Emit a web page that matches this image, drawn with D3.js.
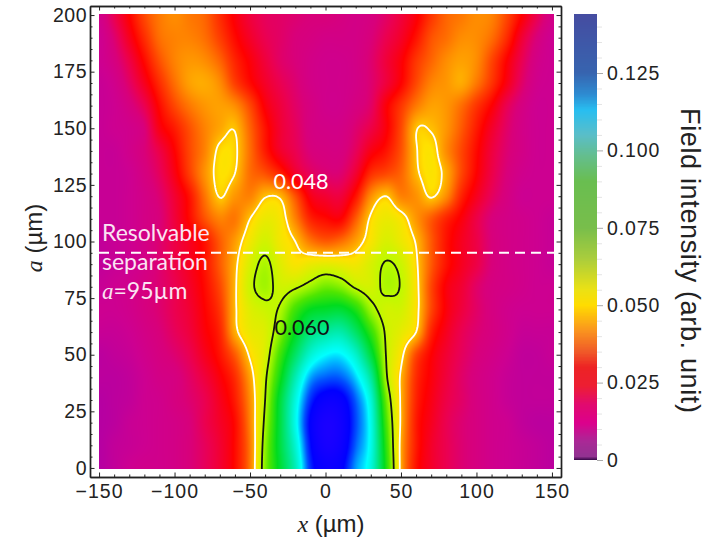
<!DOCTYPE html>
<html>
<head>
<meta charset="utf-8">
<script src="https://cdnjs.cloudflare.com/ajax/libs/d3/7.8.5/d3.min.js"></script>
<style>
  html, body { margin: 0; padding: 0; background: #fff; }
  text { font-family: "Liberation Sans", sans-serif; }
</style>
</head>
<body>
<svg id="chart" width="704" height="541"></svg>
<script>
// grid positions (um)
var xValues = d3.range(-150, 151, 10);
var aValues = d3.range(0, 201, 10);

// field intensity, in units of 0.001, one row per a value, bottom row first
var fieldRows = [
  [8,10,12,13,13,14,16,19,23,29,41,65,83,102,128,136,134,120,108,77,46,30,24,20,17,15,13,12,11,10,9],
  [8,10,11,12,13,14,16,19,23,29,41,64,85,106,131,141,138,124,110,75,46,31,24,20,17,15,13,12,11,10,9],
  [8,9,11,12,13,14,16,20,24,29,42,62,85,110,133,142,139,126,110,72,47,31,25,20,17,15,13,12,10,9,9],
  [8,9,10,12,13,15,17,20,25,31,43,60,84,108,128,136,135,124,107,68,47,32,26,21,18,15,13,11,10,10,10],
  [9,9,10,12,14,15,18,22,27,33,45,58.5,78,101,119,124,124,116,98,62,47,33,27,22,18,15,13,11,10,10,10],
  [9,10,11,13,15,17,20,25,30,38,49,56,72,90,106,113,114,105,85,60,50,36,28,23,19,16,14,12,10,10,11],
  [11,11,12,14,16,19,22,27,32,46,53,55.5,65,80,93,98,100,90,74,59,54,48,32,25,20,17,15,13,11,11,11],
  [12,12,13,15,17,20,23,28,34,47,55,58,61,72,80,82,83,76,63,57.5,57,50,36,27,22,18,15,13,12,12,12],
  [11,12,13,15,17,20,24,29,36,47,58,62.5,57.5,59,63,67,65,59,57,61.5,59.5,50,36,27,23,18,15,14,13,12,12],
  [10,11,12,14,17,21,25,30,38,46.5,56,61.5,55,51,53,54,53,52,56,60.5,58,49,38,30,25,21,16,14,13,12,11],
  [10,11,12,14,17,21,25,30,38,44.5,52,57,52,48,41,38,40,45,51,56,53,47.5,38,30,25,21,16,14,13,12,11],
  [11,11,12,14,16,22,29,37,42,41,48,53,51,42,32,29,28,38,49,53,50.5,44,38,32,27,21,16,14,13,12,11],
  [11,11,12,14,17,23,30,40.5,48.3,44,42,47.5,47,37,26,23,22,30,43,48,42,43.5,48.5,43,32,25,19,15,12,12,12],
  [11,11,12,15,19,26,35,43.5,49.9,48,40,37,32,24,19,17,17,23,33,36,39,46.8,50.5,46,36,28,21,16,13,12,12],
  [11,11,13,16,21,28,36,42,49.3,48.9,40,31,24,20,16,15,15,19,26,30,37,47.5,50.2,43,36,29,22,17,14,12,12],
  [11,12,13,16,26,31,37,42,45.5,47.6,39,30,23,19,15,14,14,17,21,27,36,47.5,47.5,44,38,31,24,18,14,12,12],
  [11,12,15,20,29,36,41,44,45,43,36,27,22,18,15,13,13,15,18,27,34,41,45,44,40,34,28,20,15,12,12],
  [11,13,18,25,33,40,45,46,43,35,29,24,20,17,14,13,13,14,17,22,28,36,42,44,46,41,34,26,18,13,12],
  [12,15,21,29,37,42,44,43,39,32,27,22,18,16,14,13,13,14,17,22,27,34,39,43,45,43,36,28,20,14,12],
  [12,17,25,33,40,42,42,40,35,29,24,20,18,16,15,14,14,14,16,20,24,30,37,40,43,43,40,33,23,16,12],
  [13,20,28,36,41,43,41,39,33,27,22,19,18,17,16,16,15,14,15,18,22,27,34,39,41,43,42,36,28,20,14]
];

// colour stops, value in units of 0.001
var fieldStops = [0, 6, 12, 16, 20, 28, 36, 42, 46, 50, 60, 70, 80, 100, 113, 125, 132, 145];
var fieldColors = ["#6e0082", "#aa00aa", "#cd0091", "#d8007a", "#eb0050", "#ff0000", "#ff4600", "#ff8200", "#ffaa00", "#ffe100", "#befa00", "#50e600", "#00dc1e", "#00ebaa", "#00ffff", "#0050ff", "#0000ff", "#2000ff"];
var barStops = [0, 1, 6, 12, 18, 24, 30, 35, 42, 50, 55, 65, 75, 90, 98, 105, 113, 118, 125, 145];
var barColors = ["#28003c", "#913291", "#aa2896", "#dc008c", "#e10a6e", "#ed1e32", "#ed2324", "#f05a28", "#fa961e", "#ffdc00", "#ebe114", "#aacd3c", "#78be4b", "#69be50", "#64be8c", "#5abec8", "#28bef0", "#2d8cd2", "#3764af", "#464ba0"];

var xTicks = [-150, -100, -50, 0, 50, 100, 150];
var aTicks = [0, 25, 50, 75, 100, 125, 150, 175, 200];
var barTicks = [0, 0.025, 0.05, 0.075, 0.1, 0.125];
var barTickLabels = ["0", "0.025", "0.050", "0.075", "0.100", "0.125"];
var contourLevels = [48, 60];
var contourColors = ["#fff", "#111"];
var resolvableA = 95;

var svg = d3.select("#chart");

var x = d3.scaleLinear().domain([-156, 156]).range([90, 561]);
var y = d3.scaleLinear().domain([-4, 204]).range([477, 6]);
var barY = d3.scaleLinear().domain([0, 0.125]).range([460, 73]);

var fieldColor = d3.scaleLinear().domain(fieldStops).range(fieldColors).clamp(true);
var barColor = d3.scaleLinear().domain(barStops).range(barColors).clamp(true);

// smooth lookup between the grid values, only for shading the picture
function cubic(p0, p1, p2, p3, t) {
  return p1 + 0.5 * t * (p2 - p0 + t * (2 * p0 - 5 * p1 + 4 * p2 - p3 + t * (3 * (p1 - p2) + p3 - p0)));
}
function at(i, j) {
  i = Math.max(0, Math.min(xValues.length - 1, i));
  j = Math.max(0, Math.min(aValues.length - 1, j));
  return fieldRows[j][i];
}
function sample(xv, av) {
  var fx = (Math.max(-150, Math.min(150, xv)) + 150) / 10,
      fa = Math.max(0, Math.min(200, av)) / 10,
      i = Math.min(Math.floor(fx), xValues.length - 2),
      j = Math.min(Math.floor(fa), aValues.length - 2),
      col = [];
  for (var k = -1; k < 3; k++) {
    col.push(cubic(at(i - 1, j + k), at(i, j + k), at(i + 1, j + k), at(i + 2, j + k), fx - i));
  }
  return cubic(col[0], col[1], col[2], col[3], fa - j);
}

// heat map
var left = 99, top_ = 14, w = 455, h = 455;
var canvas = document.createElement("canvas");
canvas.width = w;
canvas.height = h;
var ctx = canvas.getContext("2d");
var img = ctx.createImageData(w, h);
for (var py = 0; py < h; py++) {
  for (var px = 0; px < w; px++) {
    var c = d3.rgb(fieldColor(sample(x.invert(left + px + 0.5), y.invert(top_ + py + 0.5))));
    var n = (py * w + px) * 4;
    img.data[n] = c.r;
    img.data[n + 1] = c.g;
    img.data[n + 2] = c.b;
    img.data[n + 3] = 255;
  }
}
ctx.putImageData(img, 0, 0);

svg.append("image")
    .attr("x", left).attr("y", top_)
    .attr("width", w).attr("height", h)
    .attr("href", canvas.toDataURL());

svg.append("clipPath").attr("id", "plot-clip")
  .append("rect")
    .attr("x", left).attr("y", top_)
    .attr("width", w).attr("height", h);

// contours, the grid runs a little below a=0 so the lines stop at the picture edge
var cx0 = -153, ca0 = -4, cw = 307, ch = 208;
var contourGrid = [];
for (var j = 0; j < ch; j++) {
  for (var i = 0; i < cw; i++) {
    contourGrid.push(sample(cx0 + i, ca0 + j));
  }
}
var contourPath = d3.geoPath(d3.geoTransform({
  point: function(px, py) {
    this.stream.point(x(cx0 + px - 0.5), y(ca0 + py - 0.5));
  }
}));
svg.append("g")
    .attr("clip-path", "url(#plot-clip)")
  .selectAll("path")
  .data(d3.contours().size([cw, ch]).thresholds(contourLevels)(contourGrid))
  .enter().append("path")
    .attr("d", contourPath)
    .attr("fill", "none")
    .attr("stroke", function(d, i) { return contourColors[i]; })
    .attr("stroke-width", 1.8);

svg.append("line")
    .attr("x1", left).attr("x2", left + w)
    .attr("y1", y(resolvableA)).attr("y2", y(resolvableA))
    .attr("stroke", "#fff")
    .attr("stroke-width", 2)
    .attr("stroke-dasharray", "10,6");

// frame with inward ticks on all four sides
function frameAxis(axis, tx, ty, size, values, labels) {
  var g = svg.append("g")
      .attr("transform", "translate(" + tx + "," + ty + ")")
      .call(axis.tickValues(values).tickSize(-size).tickSizeOuter(0)
        .tickFormat(labels ? d3.format("d") : ""));
  g.selectAll("path, line").attr("stroke", "#222").attr("stroke-width", 1);
  g.selectAll("text")
      .attr("fill", "#222")
      .style("font-family", "'Liberation Sans', sans-serif")
      .style("font-size", "19.5px");
  return g;
}
var xMinor = d3.range(-150, 151, 10).filter(function(d) { return xTicks.indexOf(d) < 0; });
var aMinor = d3.range(0, 201, 5).filter(function(d) { return aTicks.indexOf(d) < 0; });

frameAxis(d3.axisBottom(x), 0, 477, 2.5, xMinor, false);
frameAxis(d3.axisTop(x), 0, 6, 2.5, xMinor, false);
frameAxis(d3.axisLeft(y), 90, 0, 2.5, aMinor, false);
frameAxis(d3.axisRight(y), 561, 0, 2.5, aMinor, false);
frameAxis(d3.axisTop(x), 0, 6, 4.5, xTicks, false);
frameAxis(d3.axisRight(y), 561, 0, 4.5, aTicks, false);
var xAxis = frameAxis(d3.axisBottom(x), 0, 477, 4.5, xTicks, true);
var aAxis = frameAxis(d3.axisLeft(y), 90, 0, 4.5, aTicks, true);
xAxis.selectAll("text").attr("y", 7).attr("dy", "0.71em").style("letter-spacing", "1px");
aAxis.selectAll("text").attr("x", -3).style("letter-spacing", "0.5px");

svg.selectAll(".domain").attr("stroke-width", 1.4);

// colour bar
var barVals = d3.range(0, 144, 0.25);
svg.append("g").attr("shape-rendering", "crispEdges").selectAll("rect")
  .data(barVals)
  .enter().append("rect")
    .attr("x", 574)
    .attr("width", 23)
    .attr("y", function(d) { return barY((d + 0.25) / 1000); })
    .attr("height", function(d) { return barY(d / 1000) - barY((d + 0.25) / 1000) + 0.4; })
    .attr("fill", function(d) { return barColor(d); });

var barMinor = d3.range(0, 0.1401, 0.005).filter(function(d) {
  return Math.round(d * 1000) % 25 !== 0;
});
var barMinorAxis = svg.append("g")
    .attr("transform", "translate(597,0)")
    .call(d3.axisRight(barY).tickValues(barMinor).tickSize(5).tickFormat(""));
barMinorAxis.select(".domain").remove();
barMinorAxis.selectAll("line").attr("stroke", "#e4e4e4");

var barAxis = svg.append("g")
    .attr("transform", "translate(597,0)")
    .call(d3.axisRight(barY).tickValues(barTicks).tickSize(6).tickPadding(4)
      .tickFormat(function(d, i) { return barTickLabels[i]; }));
barAxis.select(".domain").remove();
barAxis.selectAll("line").attr("stroke", "#aaa");
barAxis.selectAll("text")
    .attr("fill", "#222")
    .style("font-family", "'Liberation Sans', sans-serif")
    .style("font-size", "19.5px")
    .style("letter-spacing", "0.9px");

// titles
var xTitle = svg.append("text")
    .attr("x", 331).attr("y", 532)
    .attr("text-anchor", "middle")
    .style("font-size", "24px").attr("fill", "#222");
xTitle.append("tspan").style("font-family", "'Liberation Serif', serif").style("font-style", "italic").text("x");
xTitle.append("tspan").text(" (µm)");

var aTitle = svg.append("text")
    .attr("transform", "translate(42,238) rotate(-90)")
    .attr("text-anchor", "middle")
    .style("font-size", "24px").attr("fill", "#222");
aTitle.append("tspan").style("font-family", "'Liberation Serif', serif").style("font-style", "italic").text("a");
aTitle.append("tspan").text(" (µm)");

svg.append("text")
    .attr("transform", "translate(681,108) rotate(90)")
    .style("font-size", "27px").style("letter-spacing", "0.65px").attr("fill", "#222")
    .text("Field intensity (arb. unit)");

// annotations
function note(tx, ty, str, colour, size, anchor) {
  return svg.append("text")
      .attr("x", tx).attr("y", ty)
      .attr("text-anchor", anchor || "start")
      .attr("fill", colour)
      .style("font-family", "Lato, sans-serif")
      .style("font-size", size + "px")
      .text(str);
}
note(102, 241, "Resolvable", "#fbe3f3", 23);
note(102, 270, "separation", "#fbe3f3", 23);
var an = note(102, 299, "", "#fbe3f3", 23);
an.append("tspan").style("font-family", "'Liberation Serif', serif").style("font-style", "italic").text("a");
an.append("tspan").text("=95µm");
note(301, 189, "0.048", "#fff", 21.6, "middle");
note(302, 335, "0.060", "#111", 21.6, "middle");
</script>
</body>
</html>
